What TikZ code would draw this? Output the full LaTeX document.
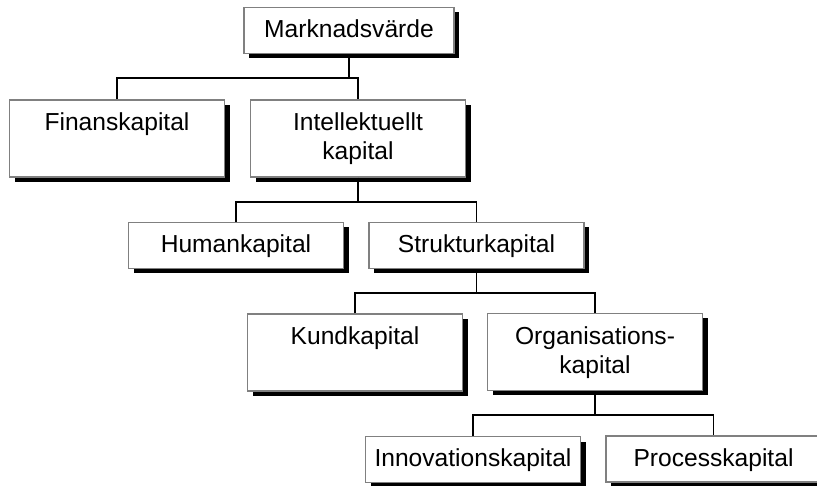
\documentclass[tikz,border=0pt]{standalone}
\usepackage{fontspec}
\setmainfont{Liberation Sans}
\usetikzlibrary{shadows}
\newcommand{\mystr}{\rule[-7.5pt]{0pt}{29pt}}
\tikzset{
  orgbox/.style={draw=black!50, line width=1.2pt, fill=white, inner sep=0pt,
    minimum width=215pt, align=center,
    font=\fontsize{24.6}{29}\selectfont,
    drop shadow={shadow xshift=5pt, shadow yshift=-5pt, fill=black, opacity=1}},
  tall/.style={minimum height=77pt},
  short/.style={minimum height=46pt},
  conn/.style={draw=black, line width=1.1pt}
}
\begin{document}
\begin{tikzpicture}[x=1pt,y=-1pt]
\clip (0,0) rectangle (817,486);
\useasboundingbox (0,0) rectangle (817,486);
\fill[white] (0,0) rectangle (817,486);
\node[orgbox, short, minimum width=210pt] (mk) at (349,30.5) {\mystr Marknadsvärde};
\node[orgbox, tall] (fin) at (117,138.5) {\mystr Finanskapital\\\mystr};
\node[orgbox, tall] (int) at (358,138.5) {\mystr Intellektuellt\\\mystr kapital};
\node[orgbox, short] (hum) at (236,245.5) {\mystr Humankapital};
\node[orgbox, short] (str) at (476.5,245.5) {\mystr Strukturkapital};
\node[orgbox, tall] (kund) at (355,352.5) {\mystr Kundkapital\\\mystr};
\node[orgbox, tall] (org) at (595,352) {\mystr Organisations-\\\mystr kapital};
\node[orgbox, short] (inn) at (473,459.5) {\mystr Innovationskapital};
\node[orgbox, short] (proc) at (713.5,459) {\mystr Processkapital};
\coordinate (b1) at (349,78);
\coordinate (b2) at (358,202);
\coordinate (b3) at (476.5,293);
\coordinate (b4) at (595,415);
\draw[conn] (mk.south) -- (b1);
\draw[conn] (fin.north) |- (b1) -| (int.north);
\draw[conn] (int.south) -- (b2);
\draw[conn] (hum.north) |- (b2) -| (str.north);
\draw[conn] (str.south) -- (b3);
\draw[conn] (kund.north) |- (b3) -| (org.north);
\draw[conn] (org.south) -- (b4);
\draw[conn] (inn.north) |- (b4) -| (proc.north);
\end{tikzpicture}
\end{document}
